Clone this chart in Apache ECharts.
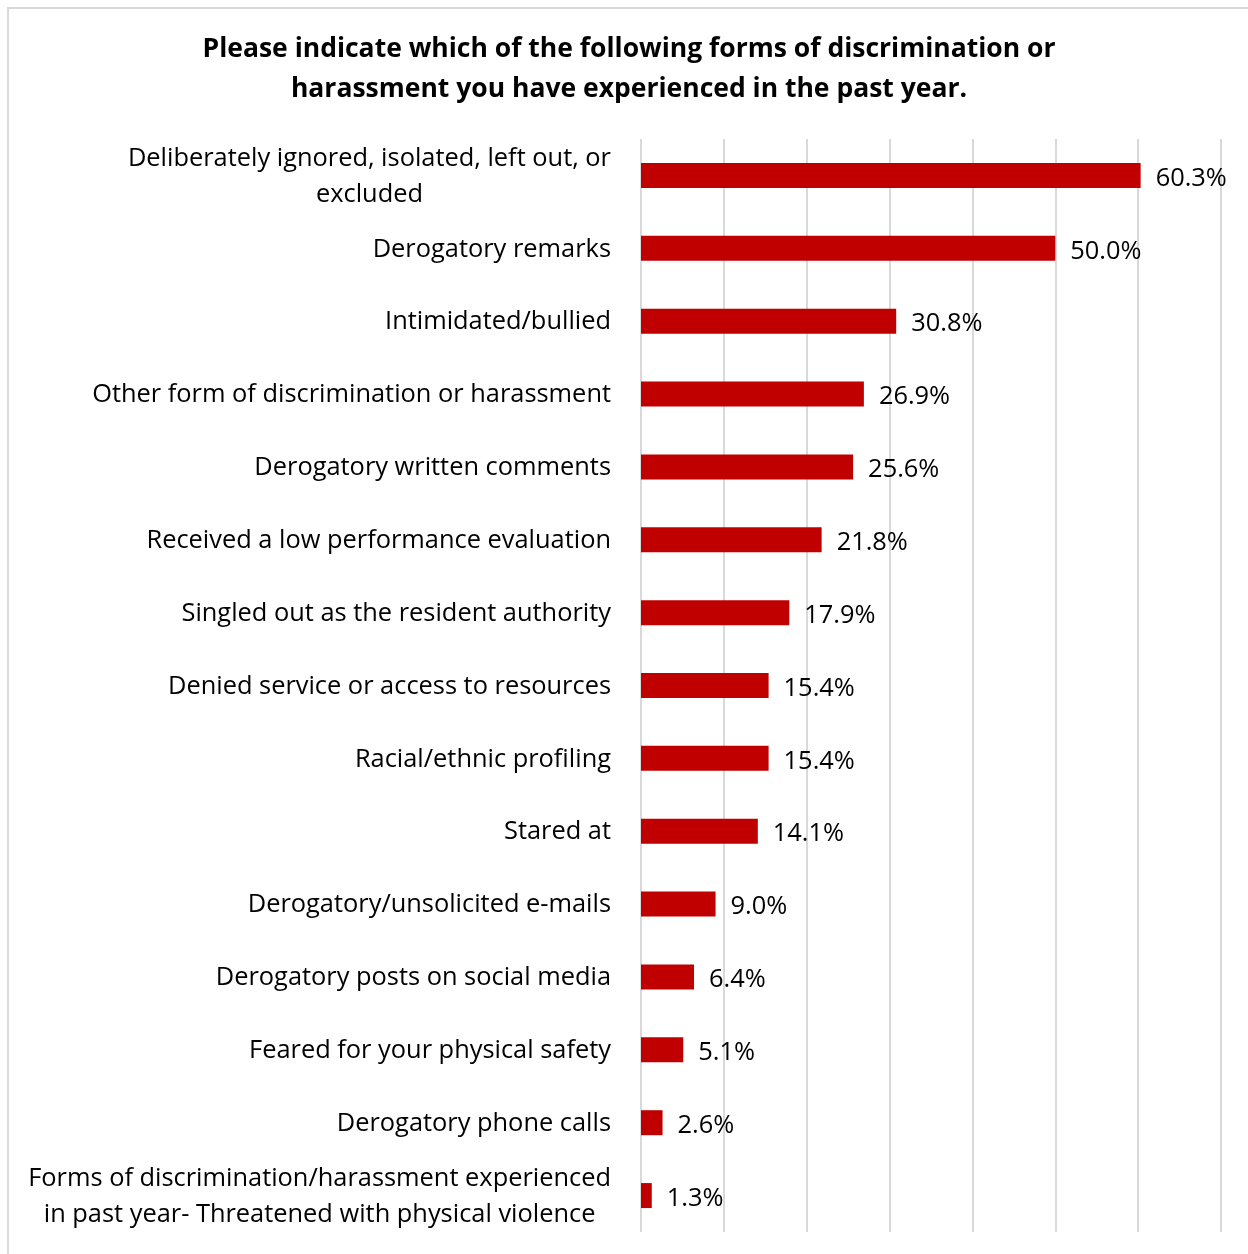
<!DOCTYPE html>
<html>
<head>
<meta charset="utf-8">
<script src="https://cdn.jsdelivr.net/npm/echarts@6/dist/echarts.min.js"></script>
<style>
html,body{margin:0;padding:0;background:#fff;}
#chart{width:1248px;height:1254px;}
</style>
</head>
<body>
<div id="chart"></div>
<script>
const titleText = 'Please indicate which of the following forms of discrimination or\nharassment you have experienced in the past year.';
const categories = [
  'Deliberately ignored, isolated, left out, or\nexcluded',
  'Derogatory remarks',
  'Intimidated/bullied',
  'Other form of discrimination or harassment',
  'Derogatory written comments',
  'Received a low performance evaluation',
  'Singled out as the resident authority',
  'Denied service or access to resources',
  'Racial/ethnic profiling',
  'Stared at',
  'Derogatory/unsolicited e-mails',
  'Derogatory posts on social media',
  'Feared for your physical safety',
  'Derogatory phone calls',
  'Forms of discrimination/harassment experienced\nin past year- Threatened with physical violence'
];
const values = [60.3, 50.0, 30.8, 26.9, 25.6, 21.8, 17.9, 15.4, 15.4, 14.1, 9.0, 6.4, 5.1, 2.6, 1.3];

const FONT = '"Open Sans"';
const FS = 25.4;
const chart = echarts.init(document.getElementById('chart'));
chart.setOption({
  backgroundColor: '#fff',
  animation: false,
  graphic: [{
    type: 'rect',
    shape: {x: 8, y: 8, width: 1280, height: 1280},
    style: {fill: null, stroke: '#d9d9d9', lineWidth: 2},
    silent: true
  }],
  title: {
    text: titleText,
    left: 629,
    textAlign: 'center',
    top: 29,
    padding: 0,
    textStyle: {fontFamily: FONT, fontWeight: 'bold', fontSize: 26.5, lineHeight: 40, color: '#000'}
  },
  grid: {left: 641, right: 27, top: 139, bottom: 22, containLabel: false},
  xAxis: {
    type: 'value', min: 0, max: 70, interval: 10,
    axisLabel: {show: false}, axisTick: {show: false},
    axisLine: {show: false},
    splitLine: {show: true, lineStyle: {color: '#d9d9d9', width: 2}}
  },
  yAxis: {
    type: 'category', data: categories, inverse: true,
    axisLine: {show: false}, axisTick: {show: false},
    axisLabel: {
      margin: 30, color: '#000', fontFamily: FONT, fontSize: FS, lineHeight: 36,
      padding: [2, 0, 0, 0],
      formatter: function (v) { return v.split('\n').map(function (s) { return '{c|' + s + '}'; }).join('\n'); },
      rich: {c: {align: 'center', fontFamily: FONT, fontSize: FS, lineHeight: 36, color: '#000'}}
    }
  },
  series: [{
    type: 'bar', data: values, barWidth: 25,
    itemStyle: {color: '#C00000'},
    label: {show: true, position: 'right', distance: 15, offset: [0, 3], color: '#000', fontFamily: FONT, fontSize: FS,
      formatter: function (p) { return p.value.toFixed(1) + '%'; }}
  }]
});
</script>
</body>
</html>
